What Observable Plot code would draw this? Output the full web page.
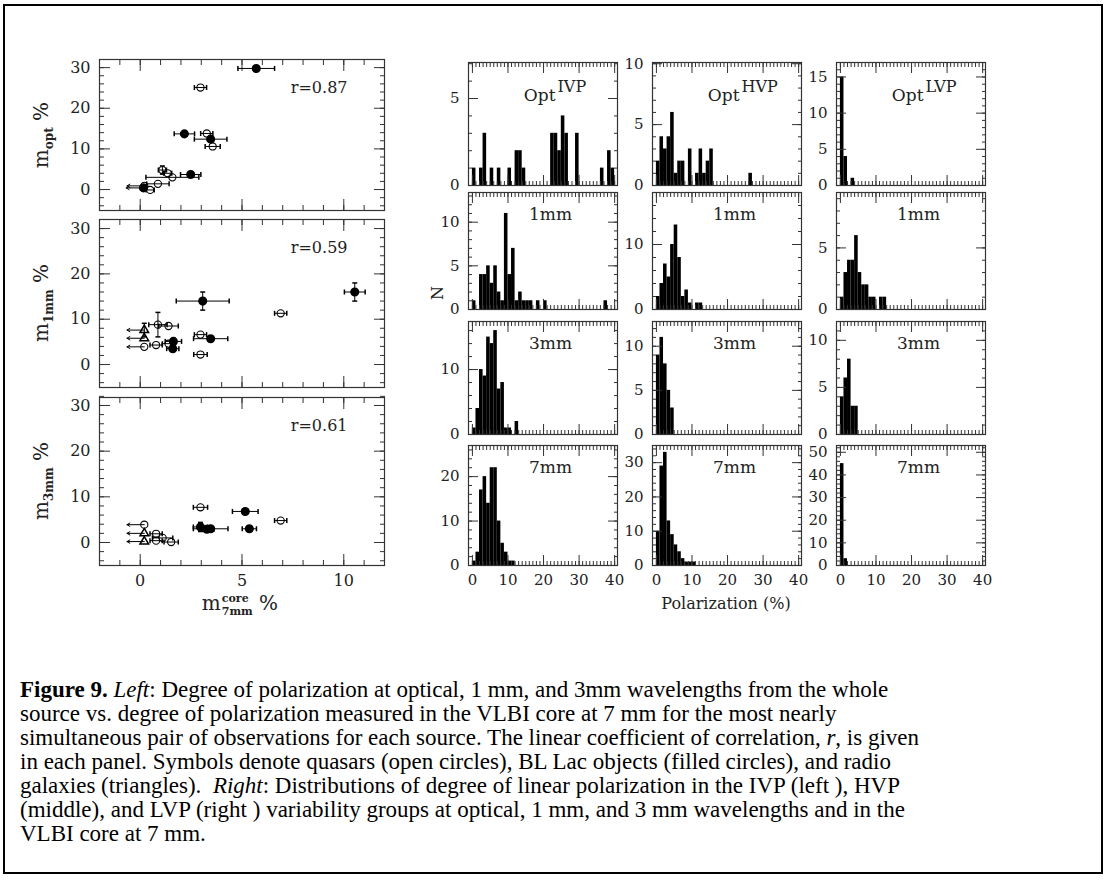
<!DOCTYPE html>
<html><head><meta charset="utf-8">
<script src="https://cdn.jsdelivr.net/npm/d3@7"></script>
<script src="https://cdn.jsdelivr.net/npm/@observablehq/plot@0.6"></script>
<style>
body{margin:0;background:#fff;}
#fig{position:relative;width:1109px;height:880px;overflow:hidden;background:#fff;}
#border{position:absolute;left:3px;top:4px;width:1096px;height:866px;border:2px solid #000;}
.lab{position:absolute;font-family:"DejaVu Serif",serif;color:#222;white-space:nowrap;transform:translate(-50%,-50%);}
.rot{transform:translate(-50%,-50%) rotate(-90deg);}
.ss{display:inline-flex;flex-direction:column;font-size:11px;line-height:13px;vertical-align:8px;font-weight:bold;margin-left:1px;}
#caption{position:absolute;left:20px;top:678px;font-family:"Liberation Serif","Times New Roman",serif;font-size:23px;line-height:24px;color:#000;white-space:nowrap;}
</style></head><body><div id="fig"><div id="border"></div></div>
<script>
// ---------------- DATA ----------------
// Left panels: fractional polarization of VLBI core at 7 mm (x) vs whole-source polarization (y)
const optX    = [5.7, 2.96, 2.17, 3.27, 3.46, 3.56, 2.48, 1.09, 1.35, 1.58, 0.87, 0.49, 0.16, 0.2];
const optXerr = [0.9, 0.3, 0.5, 0.3, 0.8, 0.37, 0.5, 0.2, 0.2, 1.3, 0.55, 0.2, 0, 0];
const optY    = [29.8, 25.1, 13.7, 13.8, 12.4, 10.6, 3.7, 4.8, 4.0, 3.0, 1.4, -0.1, 0.4, 0.9];
const optYerr = [0, 0, 0, 0, 0, 0, 0, 1.0, 0, 0, 0, 0, 0, 0];
const optType = ["b","q","b","q","b","q","b","q","q","q","q","q","b","q"];
const optLimit = [0,0,0,0,0,0,0,0,0,0,0,0,1,1];

const mm1X    = [3.07, 10.54, 6.9, 3.46, 2.96, 2.96, 0.87, 1.39, 0.78, 1.39, 1.63, 1.6, 0.2, 0.2, 0.2];
const mm1Xerr = [1.3, 0.51, 0.3, 0.84, 0.3, 0.33, 0.45, 0.48, 0.3, 0.3, 0.4, 0.3, 0, 0, 0];
const mm1Y    = [14.0, 16.0, 11.3, 5.7, 6.6, 2.2, 8.8, 8.5, 4.3, 4.6, 5.1, 3.5, 7.6, 5.8, 3.9];
const mm1Yerr = [2.0, 2.0, 0, 0, 0, 0, 2.7, 0, 0, 0, 0, 0, 1.5, 0, 0];
const mm1Type = ["b","b","q","b","q","q","q","q","q","q","b","b","g","g","q"];
const mm1Limit = [0,0,0,0,0,0,0,0,0,0,0,0,1,1,1];

const mm3X    = [5.16, 5.36, 6.9, 2.96, 2.96, 3.27, 3.46, 0.2, 0.2, 0.2, 0.78, 0.78, 1.1, 1.52];
const mm3Xerr = [0.63, 0.35, 0.3, 0.35, 0.35, 0.35, 0.85, 0, 0, 0, 0.3, 0.3, 0.5, 0.35];
const mm3Y    = [6.8, 3.0, 4.8, 7.7, 3.4, 2.9, 3.0, 3.9, 2.0, 0.2, 1.9, 0.4, 1.0, 0.1];
const mm3Yerr = [0, 0, 0, 0, 1.0, 0, 0, 0, 0, 0, 0, 0, 0, 0];
const mm3Type = ["b","b","q","q","b","b","b","q","g","g","q","q","q","q"];
const mm3Limit = [0,0,0,0,0,0,0,1,1,1,0,0,0,0];

const rLabels = ["r=0.87", "r=0.59", "r=0.61"];

// Right panels: counts per 1% polarization bin, starting at 0%
const optIVP = [1,0,1,3,0,1,0,1,0,0,1,0,2,2,1,0,0,0,0,0,0,0,3,3,2,4,3,0,0,3,0,0,0,0,0,0,1,0,2,1];
const optHVP = [2,4,3,4,6,1,2,2,0,3,0,1,3,1,2,3,0,0,0,0,0,0,0,0,0,0,1];
const optLVP = [15,4,0,1];
const mm1IVP = [1,0,4,4,5,3,5,2,1,11,4,7,1,2,1,1,1,0,1,0,1,0,0,0,0,0,0,0,0,0,0,0,0,0,0,0,0,1];
const mm1HVP = [2,4,7,5,10,13,8,2,3,1,0,1,1];
const mm1LVP = [1,3,4,4,6,3,2,2,1,1,0,1,1];
const mm3IVP = [1,4,10,9,15,14,16,7,8,1,1,0,2];
const mm3HVP = [9,11,8,5,3];
const mm3LVP = [4,6,8,3,3];
const mm7IVP = [1,3,17,20,14,22,22,10,5,3,1,1];
const mm7HVP = [10,29,33,13,9,6,4,2,1,1,1];
const mm7LVP = [45,3];

const bandLabels = ["Opt", "1mm", "3mm", "7mm"];
const groupLabels = ["IVP", "HVP", "LVP"];
const polTicks = [0, 10, 20, 30, 40];
const coreTicks = [0, 5, 10];
const mTicks = [0, 10, 20, 30];

const captionLines = [
  "<b>Figure 9.</b> <i>Left</i>: Degree of polarization at optical, 1 mm, and 3mm wavelengths from the whole",
  "source vs. degree of polarization measured in the VLBI core at 7 mm for the most nearly",
  "simultaneous pair of observations for each source. The linear coefficient of correlation, <i>r</i>, is given",
  "in each panel. Symbols denote quasars (open circles), BL Lac objects (filled circles), and radio",
  "galaxies (triangles).&nbsp; <i>Right</i>: Distributions of degree of linear polarization in the IVP (left ), HVP",
  "(middle), and LVP (right ) variability groups at optical, 1 mm, and 3 mm wavelengths and in the",
  "VLBI core at 7 mm."
];

// ---------------- DRAWING ----------------
const fig = document.getElementById("fig");
const LC = "#333", TC = "#222", FONT = "DejaVu Serif";
const range = (a, b, s) => d3.range(a, b + 1e-9, s);

const vbar = {draw(ctx, size) { const h = Math.sqrt(size / Math.PI); ctx.moveTo(0, -h); ctx.lineTo(0, h); }};
const hbar = {draw(ctx, size) { const h = Math.sqrt(size / Math.PI); ctx.moveTo(-h, 0); ctx.lineTo(h, 0); }};

function frameTicks(o) {
  const c = {tickFormat: () => "", label: null, stroke: LC, strokeWidth: 1};
  const m = [];
  for (const anchor of ["bottom", "top"]) {
    m.push(Plot.axisX(o.xMin, {...c, anchor, tickSize: -o.minLen}));
    m.push(Plot.axisX(o.xMaj, {...c, anchor, tickSize: -o.majLen}));
  }
  for (const anchor of ["left", "right"]) {
    m.push(Plot.axisY(o.yMin, {...c, anchor, tickSize: -o.minLen}));
    m.push(Plot.axisY(o.yMaj, {...c, anchor, tickSize: -o.majLen}));
  }
  if (o.xLab) m.push(Plot.axisX(o.xLab, {anchor: "bottom", tickSize: 0, tickPadding: 9, label: null, fill: TC}));
  m.push(Plot.axisY(o.yLab, {anchor: "left", tickSize: 0, tickPadding: 9, label: null, fill: TC}));
  m.push(Plot.frame({stroke: LC, strokeWidth: 1.2}));
  return m;
}

function place(svg, left, top) {
  svg.style.position = "absolute";
  svg.style.left = left + "px";
  svg.style.top = top + "px";
  svg.style.overflow = "visible";
  fig.appendChild(svg);
}

function scatterPanel(fr, yDomain, X, XE, Y, YE, T, L, rText, showX) {
  const d = X.map((x, i) => ({x, xe: XE[i], y: Y[i], ye: YE[i], t: T[i], lim: L[i]}));
  const dx = d.filter(p => p.xe > 0), dy = d.filter(p => p.ye > 0);
  const ml = 60, mr = 2, mt = 2, mb = 30;
  const svg = Plot.plot({
    width: fr.w + ml + mr, height: fr.h + mt + mb,
    marginLeft: ml, marginRight: mr, marginTop: mt, marginBottom: mb,
    x: {domain: [-2, 12]}, y: {domain: yDomain},
    style: {fontFamily: FONT, fontSize: "16px", color: TC, background: "transparent"},
    marks: [
      ...frameTicks({xMaj: coreTicks, xMin: range(-1, 11, 1), yMaj: mTicks, yMin: range(-4, 32, 2),
                     xLab: showX ? coreTicks : null, yLab: mTicks, majLen: 11, minLen: 5}),
      Plot.link(dx, {x1: p => p.x - p.xe, x2: p => p.x + p.xe, y1: "y", y2: "y", stroke: "#000", strokeWidth: 1}),
      Plot.dot(dx, {x: p => p.x - p.xe, y: "y", symbol: vbar, r: 2.5, stroke: "#000"}),
      Plot.dot(dx, {x: p => p.x + p.xe, y: "y", symbol: vbar, r: 2.5, stroke: "#000"}),
      Plot.link(dy, {x1: "x", x2: "x", y1: p => p.y - p.ye, y2: p => p.y + p.ye, stroke: "#000"}),
      Plot.dot(dy, {x: "x", y: p => p.y - p.ye, symbol: hbar, r: 2.5, stroke: "#000"}),
      Plot.dot(dy, {x: "x", y: p => p.y + p.ye, symbol: hbar, r: 2.5, stroke: "#000"}),
      Plot.arrow(d.filter(p => p.lim), {x1: "x", y1: "y", x2: p => p.x - 0.85, y2: "y", stroke: "#000", strokeWidth: 1, headLength: 5}),
      Plot.dot(d.filter(p => p.t === "q"), {x: "x", y: "y", r: 3.6, stroke: "#000", strokeWidth: 1.1, fill: "none"}),
      Plot.dot(d.filter(p => p.t === "b"), {x: "x", y: "y", r: 3.8, fill: "#000", stroke: "#000"}),
      Plot.dot(d.filter(p => p.t === "g"), {x: "x", y: "y", r: 3.2, symbol: "triangle", stroke: "#000", fill: "none"}),
      Plot.text([rText], {text: t => t, frameAnchor: "top-right", dx: -37, dy: 28, textAnchor: "end", lineAnchor: "middle", fill: TC, fontSize: 16})
    ]
  });
  place(svg, fr.x - ml, fr.y - mt);
}

function histPanel(fr, counts, yMax, labStep, minStep, row, col) {
  const bins = counts.map((n, i) => ({x1: i, x2: i + 1, n})).filter(b => b.n > 0);
  const ml = 40, mr = 2, mt = 2, mb = 30;
  const labelMarks = row === 0 ? [
    Plot.text([bandLabels[0]], {text: t => t, frameAnchor: "top-right", dx: -62, dy: 33, textAnchor: "end", lineAnchor: "middle", fill: TC, fontSize: 17}),
    Plot.text([groupLabels[col]], {text: t => t, frameAnchor: "top-right", dx: -60, dy: 24, textAnchor: "start", lineAnchor: "middle", fill: TC, fontSize: 16})
  ] : [
    Plot.text([bandLabels[row]], {text: t => t, frameAnchor: "top-left", dx: 82, dy: 22, textAnchor: "middle", lineAnchor: "middle", fill: TC, fontSize: 17})
  ];
  const svg = Plot.plot({
    width: fr.w + ml + mr, height: fr.h + mt + mb,
    marginLeft: ml, marginRight: mr, marginTop: mt, marginBottom: mb,
    x: {domain: [-1.1, 40.8]}, y: {domain: [0, yMax]},
    style: {fontFamily: FONT, fontSize: "15px", color: TC, background: "transparent"},
    marks: [
      Plot.rect(bins, {x1: "x1", x2: "x2", y1: () => 0, y2: "n", fill: "#000"}),
      ...frameTicks({xMaj: polTicks, xMin: range(0, 40, 1), yMaj: range(0, yMax, labStep), yMin: range(0, yMax, minStep),
                     xLab: row === 3 ? polTicks : null, yLab: range(0, yMax, labStep), majLen: 10, minLen: 4}),
      ...labelMarks
    ]
  });
  place(svg, fr.x - ml, fr.y - mt);
}

// Left column
const leftFrames = [
  {x: 99, y: 59, w: 285, h: 151},
  {x: 99, y: 219, w: 285, h: 168},
  {x: 99, y: 397, w: 285, h: 168}
];
scatterPanel(leftFrames[0], [-5.16, 32], optX, optXerr, optY, optYerr, optType, optLimit, rLabels[0], false);
scatterPanel(leftFrames[1], [-5.07, 32], mm1X, mm1Xerr, mm1Y, mm1Yerr, mm1Type, mm1Limit, rLabels[1], false);
scatterPanel(leftFrames[2], [-5.04, 31.75], mm3X, mm3Xerr, mm3Y, mm3Yerr, mm3Type, mm3Limit, rLabels[2], true);

// Right grid
const colX = [468, 652, 836];
const rowY = [[62, 185], [192, 309], [321, 434], [445, 565]];
const histData = [[optIVP, optHVP, optLVP], [mm1IVP, mm1HVP, mm1LVP], [mm3IVP, mm3HVP, mm3LVP], [mm7IVP, mm7HVP, mm7LVP]];
const yMaxes = [[7.07, 10.1, 17], [13.4, 18, 9.5], [17.4, 12.8, 12], [27, 35, 53]];
const yLabSteps = [[5, 5, 5], [5, 10, 5], [10, 5, 5], [10, 10, 10]];
const yMinSteps = [[1, 1, 1], [1, 2, 1], [2, 1, 1], [2, 2, 2]];
for (let r = 0; r < 4; r++) for (let c = 0; c < 3; c++) {
  histPanel({x: colX[c], y: rowY[r][0], w: 149, h: rowY[r][1] - rowY[r][0]}, histData[r][c], yMaxes[r][c], yLabSteps[r][c], yMinSteps[r][c], r, c);
}

// HTML labels
function addLabel(html, x, y, size, rot) {
  const el = document.createElement("div");
  el.className = "lab" + (rot ? " rot" : "");
  el.style.left = x + "px"; el.style.top = y + "px"; el.style.fontSize = size + "px";
  el.innerHTML = html;
  fig.appendChild(el);
}
addLabel("m<sub style='font-size:12px;font-weight:bold'>opt</sub> %", 42, 135, 20, true);
addLabel("m<sub style='font-size:12px;font-weight:bold'>1mm</sub> %", 42, 303, 20, true);
addLabel("m<sub style='font-size:12px;font-weight:bold'>3mm</sub> %", 42, 481, 20, true);
addLabel("m<span class='ss'><span>core</span><span>7mm</span></span> %", 240, 604, 20, false);
addLabel("N", 437, 293, 16, true);
addLabel("Polarization (%)", 726, 603, 16, false);

const cap = document.createElement("div");
cap.id = "caption";
cap.innerHTML = captionLines.join("<br>");
fig.appendChild(cap);
</script></body></html>
